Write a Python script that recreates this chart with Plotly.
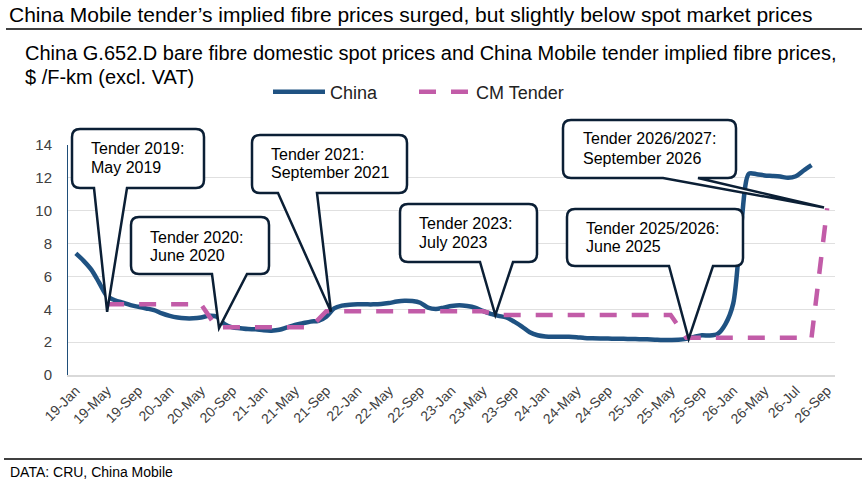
import plotly.graph_objects as go

# ---------------- data ----------------
tick_labels = ["19-Jan", "19-May", "19-Sep", "20-Jan", "20-May", "20-Sep", "21-Jan", "21-May",
               "21-Sep", "22-Jan", "22-May", "22-Sep", "23-Jan", "23-May", "23-Sep", "24-Jan",
               "24-May", "24-Sep", "25-Jan", "25-May", "25-Sep", "26-Jan", "26-May", "26-Jul",
               "26-Sep"]
tick_pos = [i * 4 for i in range(len(tick_labels))]   # category index of each label

china_x = list(range(0, 95))
china_y = [7.4, 6.95, 6.4, 5.6, 4.8, 4.55, 4.4, 4.25, 4.15, 4.05,
           3.95, 3.75, 3.6, 3.5, 3.45, 3.45, 3.5, 3.6, 3.55, 3.1,
           2.9, 2.85, 2.8, 2.78, 2.72, 2.7, 2.75, 2.9, 3.05, 3.15,
           3.25, 3.3, 3.55, 4.05, 4.22, 4.28, 4.3, 4.3, 4.3, 4.32,
           4.38, 4.47, 4.52, 4.5, 4.4, 4.1, 4.02, 4.1, 4.2, 4.25,
           4.2, 4.1, 3.9, 3.72, 3.6, 3.5, 3.25, 2.95, 2.6, 2.42,
           2.35, 2.33, 2.33, 2.33, 2.3, 2.25, 2.23, 2.22, 2.22, 2.2,
           2.2, 2.19, 2.18, 2.17, 2.15, 2.13, 2.13, 2.14, 2.2, 2.32,
           2.42, 2.4, 2.5, 3.1, 4.36, 9.0, 12.25, 12.22, 12.15, 12.12,
           12.08, 12.0, 12.1, 12.45, 12.78]

tender_x = [4, 16, 18, 30, 32, 52, 54, 76, 78, 94, 96]
tender_y = [4.3, 4.3, 2.9, 2.9, 3.88, 3.88, 3.65, 3.65, 2.27, 2.27, 10.15]

callout_lines = [
    ["Tender 2019:", "May 2019"],
    ["Tender 2020:", "June 2020"],
    ["Tender 2021:", "September 2021"],
    ["Tender 2023:", "July 2023"],
    ["Tender 2025/2026:", "June 2025"],
    ["Tender 2026/2027:", "September 2026"],
]
# tip of each callout (category index, price)
callout_tip = [(4, 3.85), (18.3, 2.85), (32.6, 3.85), (53.6, 3.65), (78.3, 2.2), (95.6, 10.2)]

# ---------------- layout geometry ----------------
W, H = 865, 486
L, R, T, B = 68, 835, 145, 375
XR = [-1, 97]
YR = [0, 14]

def px2paper(x, y):
    return (x - L) / (R - L), (B - y) / (B - T)

def data2px(i, v):
    return (L + (i - XR[0]) / (XR[1] - XR[0]) * (R - L),
            B - (v - YR[0]) / (YR[1] - YR[0]) * (B - T))

# box geometry in pixels: x0, y0, x1, y1, pointer base b0, b1, text x, line1 y, line2 y
boxes = [
    (72, 129, 204, 188, 94, 127, 89, 148, 167),
    (131, 217, 269, 274, 212, 247, 148, 237, 255),
    (252, 135, 407, 193, 278, 317, 269, 154, 172),
    (400, 204, 537, 262, 480, 513, 417, 223, 242),
    (567, 209, 743, 266, 669, 713, 584, 228, 246),
    (563, 120, 736, 178, 663, 698, 581, 139, 158),
]

def callout_path(x0, y0, x1, y1, b0, b1, tx, ty, r=8):
    pts = [("M", [(x0 + r, y0)]), ("L", [(x1 - r, y0)]), ("Q", [(x1, y0), (x1, y0 + r)]),
           ("L", [(x1, y1 - r)]), ("Q", [(x1, y1), (x1 - r, y1)]), ("L", [(b1, y1)]),
           ("L", [(tx, ty)]), ("L", [(b0, y1)]), ("L", [(x0 + r, y1)]),
           ("Q", [(x0, y1), (x0, y1 - r)]), ("L", [(x0, y0 + r)]), ("Q", [(x0, y0), (x0 + r, y0)])]
    s = ""
    for cmd, ps in pts:
        s += cmd + " ".join("%.5f,%.5f" % px2paper(a, b) for a, b in ps) + " "
    return s + "Z"

# ---------------- figure ----------------
fig = go.Figure()
fig.add_trace(go.Scatter(x=china_x, y=china_y, mode="lines", name="China", legend="legend",
                         line=dict(color="#1f5282", width=4.5, shape="spline", smoothing=0.8)))
fig.add_trace(go.Scatter(x=tender_x, y=tender_y, mode="lines", name="CM Tender", legend="legend2",
                         line=dict(color="#c25ca8", width=4.5, dash="17px,15px")))

FONT = "Liberation Sans, Arial, sans-serif"
shapes = []
annotations = []

for (x0, y0, x1, y1, b0, b1, tx_, l1, l2), lines, tip in zip(boxes, callout_lines, callout_tip):
    tx, ty = data2px(*tip)
    shapes.append(dict(type="path", xref="paper", yref="paper", layer="above",
                       path=callout_path(x0, y0, x1, y1, b0, b1, tx, ty),
                       fillcolor="white", line=dict(color="#0b1f35", width=2.5)))
    for txt, yy in zip(lines, (l1, l2)):
        ax, ay = px2paper(tx_, yy)
        annotations.append(dict(text=txt, x=ax, y=ay, xref="paper", yref="paper",
                                xanchor="left", yanchor="middle", showarrow=False,
                                font=dict(family=FONT, size=16, color="black")))

# title lines & rules
def text_ann(txt, x, y, size):
    ax, ay = px2paper(x, y)
    return dict(text=txt, x=ax, y=ay, xref="paper", yref="paper", xanchor="left",
                yanchor="middle", showarrow=False, font=dict(family=FONT, size=size, color="black"))

annotations.append(text_ann("China Mobile tender’s implied fibre prices surged, but slightly below spot market prices", 7, 15, 21))
annotations.append(text_ann("China G.652.D bare fibre domestic spot prices and China Mobile tender implied fibre prices,", 23, 53, 20))
annotations.append(text_ann("$ /F-km (excl. VAT)", 23, 77, 20))
annotations.append(text_ann("DATA: CRU, China Mobile", 8, 472, 14))

for (xa, xb, yy) in [(6, 862, 29), (4, 862, 459)]:
    pa = px2paper(xa, yy)
    pb = px2paper(xb, yy)
    shapes.append(dict(type="line", xref="paper", yref="paper", x0=pa[0], x1=pb[0], y0=pa[1], y1=pb[1],
                       line=dict(color="black", width=1.5)))

lx1, ly = px2paper(268, 92)
lx2, _ = px2paper(414, 92)
leg_common = dict(orientation="h", y=ly, xanchor="left", yanchor="middle",
                  font=dict(family=FONT, size=18, color="#222222"),
                  bgcolor="rgba(0,0,0,0)", itemwidth=52)

fig.update_layout(
    width=W, height=H,
    margin=dict(l=L, r=W - R, t=T, b=H - B),
    paper_bgcolor="white", plot_bgcolor="white",
    font=dict(family=FONT, color="#404040"),
    showlegend=True,
    legend=dict(x=lx1, **leg_common),
    legend2=dict(x=lx2, **leg_common),
    xaxis=dict(range=XR, tickmode="array", tickvals=tick_pos, ticktext=tick_labels,
               tickangle=-45, showgrid=False, zeroline=False, showline=True,
               linecolor="#d9d9d9", linewidth=2, ticks="",
               tickfont=dict(family=FONT, size=14, color="#404040")),
    yaxis=dict(range=YR, tickmode="array", tickvals=list(range(0, 15, 2)),
               showgrid=True, gridcolor="#e0e0e0", gridwidth=1, zeroline=False,
               showline=True, linecolor="#1f4e79", linewidth=1, ticks="",
               ticklabelstandoff=12,
               tickfont=dict(family=FONT, size=15, color="#404040")),
    shapes=shapes,
    annotations=annotations,
)

fig.write_html("out.html", config={"displayModeBar": False},
               post_script="document.body.style.margin='0';")
